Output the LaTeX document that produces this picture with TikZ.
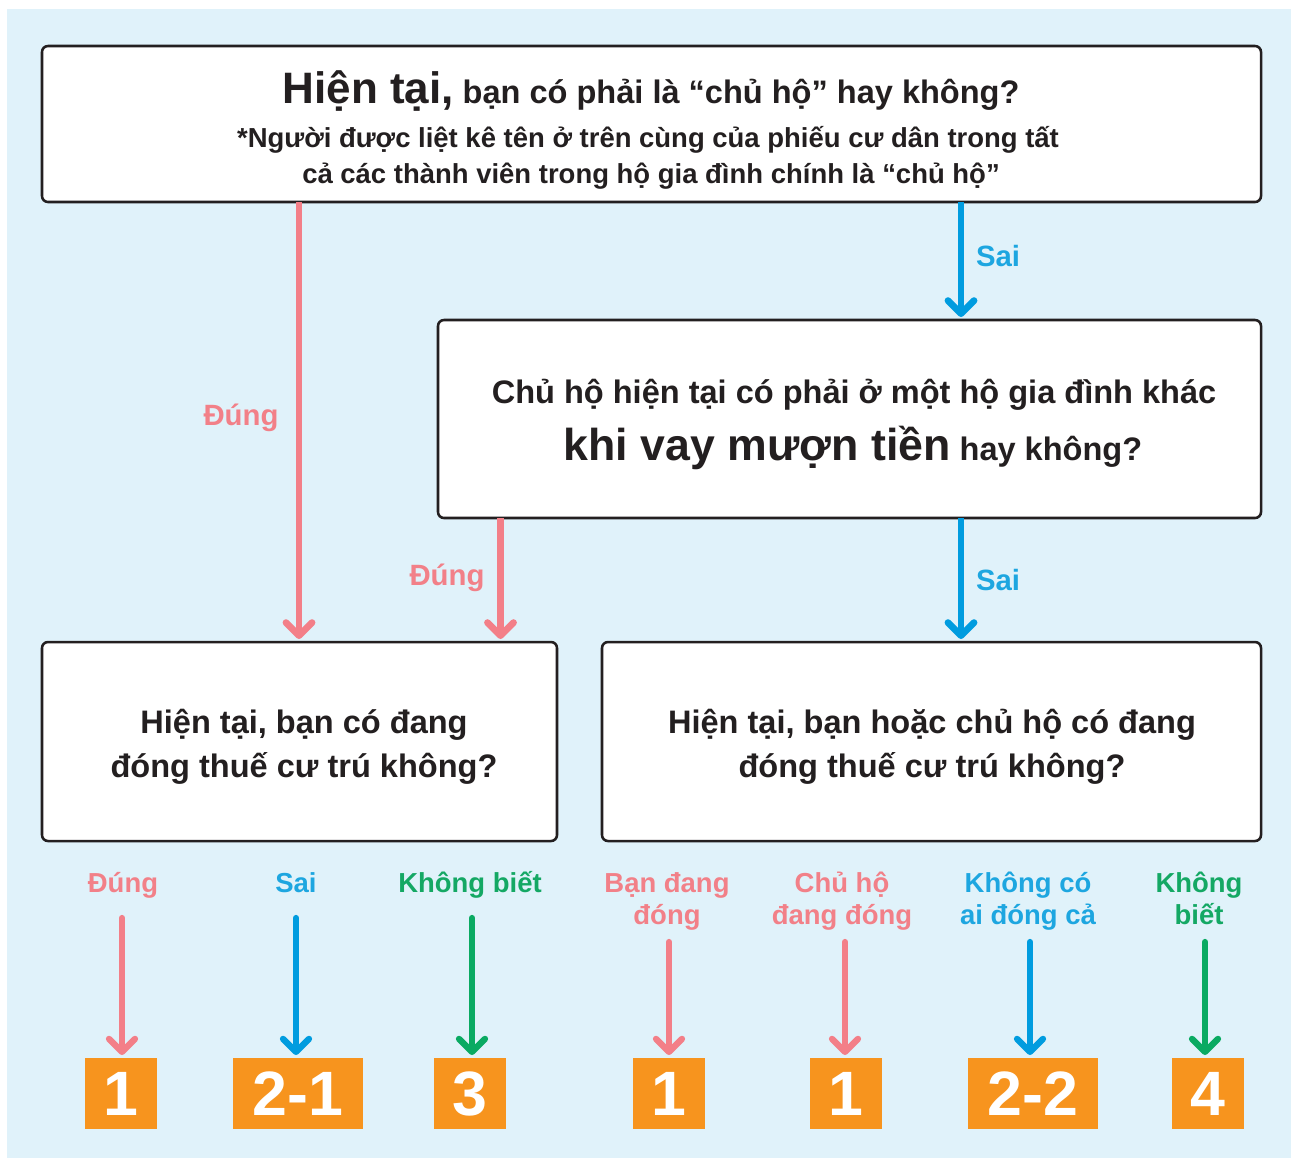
\documentclass[tikz,border=0pt]{standalone}
\usepackage{fontspec}
\setmainfont{Liberation Sans}
\usetikzlibrary{arrows.meta}
\definecolor{bgc}{HTML}{E0F2FA}
\definecolor{darkc}{HTML}{231F20}
\definecolor{pinka}{HTML}{F37F88}
\definecolor{pinkt}{HTML}{F28088}
\definecolor{bluea}{HTML}{009CDF}
\definecolor{bluet}{HTML}{1DA6E0}
\definecolor{greena}{HTML}{0AAA62}
\definecolor{greent}{HTML}{14A864}
\definecolor{orangec}{HTML}{F7941E}
\begin{document}
\begin{tikzpicture}[x=0.75pt,y=-0.75pt,
  qbox/.style={draw=darkc, line width=1.9pt, fill=white, rounded corners=4.5pt, inner sep=0pt, outer sep=0pt},
  obox/.style={fill=orangec, inner sep=0pt, outer sep=0pt, text=white, minimum height=71*0.75pt, font=\bfseries\fontsize{47pt}{47pt}\selectfont},
  txt/.style={inner sep=0pt, outer sep=0pt, anchor=base, text=darkc, font=\bfseries\fontsize{24.4pt}{29pt}\selectfont},
  small/.style={txt, font=\bfseries\fontsize{20.6pt}{24pt}\selectfont},
  lab/.style={inner sep=0pt, outer sep=0pt, anchor=base, font=\bfseries\fontsize{22pt}{26pt}\selectfont},
  blab/.style={inner sep=0pt, outer sep=0pt, anchor=base, font=\bfseries\fontsize{20.6pt}{24pt}\selectfont},
  arrM/.style={line width=5.1pt, -{Straight Barb[length=9.75pt, width=19.5pt, round]}, shorten >=2.25pt},
  arrB/.style={line width=4.7pt, line cap=round, -{Straight Barb[length=9.75pt, width=19.5pt, round]}, shorten >=2.25pt}
]
\fill[bgc] (7,9) rectangle (1291,1158);
\useasboundingbox (0,0) rectangle (1291,1158);

% question boxes
\node[qbox, minimum width=1219*0.75pt, minimum height=156*0.75pt] (q1) at (651.5,124) {};
\node[qbox, minimum width=823*0.75pt, minimum height=198*0.75pt] (q2) at (849.5,419) {};
\node[qbox, minimum width=515*0.75pt, minimum height=199*0.75pt] (q3) at (299.5,741.5) {};
\node[qbox, minimum width=659*0.75pt, minimum height=199*0.75pt] (q4) at (931.5,741.5) {};

% texts
\node[txt] (q1a) at (651,103) {{\fontsize{33pt}{33pt}\selectfont Hiện tại,} bạn có phải là “chủ hộ” hay không?};
\node[small] (q1b) at (648,147) {*Người được liệt kê tên ở trên cùng của phiếu cư dân trong tất};
\node[small] (q1c) at (651,183) {cả các thành viên trong hộ gia đình chính là “chủ hộ”};
\node[txt] (q2a) at (854,403) {Chủ hộ hiện tại có phải ở một hộ gia đình khác};
\node[txt] (q2b) at (853,460) {{\fontsize{33.5pt}{33.5pt}\selectfont khi vay mượn tiền} hay không?};
\node[txt] (q3a) at (304,733) {Hiện tại, bạn có đang};
\node[txt] (q3b) at (304,777.5) {đóng thuế cư trú không?};
\node[txt] (q4a) at (932,733) {Hiện tại, bạn hoặc chủ hộ có đang};
\node[txt] (q4b) at (932,777.5) {đóng thuế cư trú không?};

% main connectors
\coordinate (xA) at (299,0);
\coordinate (xB) at (500.5,0);
\coordinate (xC) at (961,0);
\draw[arrM, pinka] (q1.south -| xA) -- (q3.north -| xA);
\draw[arrM, bluea] (q1.south -| xC) -- (q2.north -| xC);
\draw[arrM, pinka] (q2.south -| xB) -- (q3.north -| xB);
\draw[arrM, bluea] (q2.south -| xC) -- (q4.north -| xC);

\node[lab, text=pinkt] (dA) at (241,425) {Đúng};
\node[lab, text=bluet] (sA) at (998,266) {Sai};
\node[lab, text=pinkt] (dB) at (447,585) {Đúng};
\node[lab, text=bluet] (sB) at (998,590) {Sai};

% answer labels
\node[blab, text=pinkt] (b1) at (123,892) {Đúng};
\node[blab, text=bluet] (b2) at (296,892) {Sai};
\node[blab, text=greent] (b3) at (470,892) {Không biết};
\node[blab, text=pinkt] (b4a) at (667,892) {Bạn đang};
\node[blab, text=pinkt] (b4b) at (667,924) {đóng};
\node[blab, text=pinkt] (b5a) at (842,892) {Chủ hộ};
\node[blab, text=pinkt] (b5b) at (842,924) {đang đóng};
\node[blab, text=bluet] (b6a) at (1028,892) {Không có};
\node[blab, text=bluet] (b6b) at (1028,924) {ai đóng cả};
\node[blab, text=greent] (b7a) at (1199,892) {Không};
\node[blab, text=greent] (b7b) at (1199,924) {biết};

% result boxes
\node[obox, minimum width=72*0.75pt] (o1) at (121,1093.5) {1};
\node[obox, minimum width=130*0.75pt] (o2) at (298,1093.5) {2-1};
\node[obox, minimum width=72*0.75pt] (o3) at (470,1093.5) {3};
\node[obox, minimum width=72*0.75pt] (o4) at (669,1093.5) {1};
\node[obox, minimum width=72*0.75pt] (o5) at (846,1093.5) {1};
\node[obox, minimum width=130*0.75pt] (o6) at (1033,1093.5) {2-2};
\node[obox, minimum width=72*0.75pt] (o7) at (1208,1093.5) {4};

% answer arrows
\coordinate (s1) at (122,918);
\coordinate (s2) at (296,918);
\coordinate (s3) at (472,918);
\coordinate (s4) at (669,942);
\coordinate (s5) at (845,942);
\coordinate (s6) at (1030,942);
\coordinate (s7) at (1205,942);
\draw[arrB, pinka] (s1) -- (o1.north -| s1);
\draw[arrB, bluea] (s2) -- (o2.north -| s2);
\draw[arrB, greena] (s3) -- (o3.north -| s3);
\draw[arrB, pinka] (s4) -- (o4.north -| s4);
\draw[arrB, pinka] (s5) -- (o5.north -| s5);
\draw[arrB, bluea] (s6) -- (o6.north -| s6);
\draw[arrB, greena] (s7) -- (o7.north -| s7);
\end{tikzpicture}
\end{document}
